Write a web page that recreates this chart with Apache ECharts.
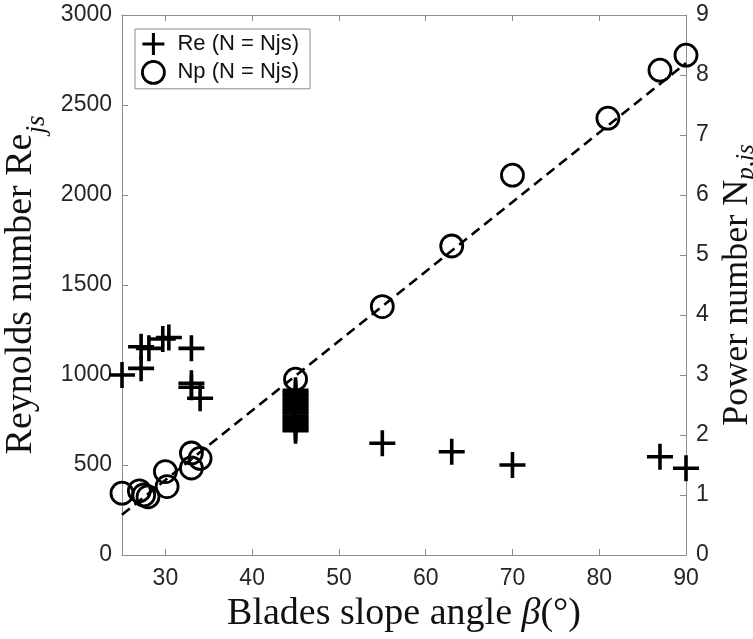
<!DOCTYPE html>
<html>
<head>
<meta charset="utf-8">
<script src="https://cdn.jsdelivr.net/npm/echarts@6/dist/echarts.min.js"></script>
<style>
  html, body { margin: 0; padding: 0; background: #fff; }
  #chart { width: 753px; height: 639px; }
</style>
</head>
<body>
<div id="chart"></div>
<script>
// 叶片倾角 (deg) 与 Re_js
const reAngles = [25, 27.2, 27.2, 28.1, 29.7, 30.4, 33, 33, 33, 34,
  45, 45, 45, 45, 45, 45, 45, 45, 45, 45, 45, 45, 45, 45, 45, 45, 45,
  55, 63, 70, 87, 90]
const reValues = [1000, 1037, 1157, 1148, 1200, 1208, 1148, 954, 932, 871,
  690, 702, 715, 731, 744, 760, 772, 789, 801, 815, 830, 846, 858, 872, 887, 900, 915,
  621, 574, 500, 546, 482]

// 叶片倾角 (deg) 与 Np_js
const npAngles = [25, 27, 27.5, 28, 30, 30.2, 33, 33, 34, 45, 55, 63, 70, 81, 87, 90]
const npValues = [1.03, 1.07, 1.0, 0.97, 1.39, 1.14, 1.7, 1.45, 1.61, 2.93, 4.14, 5.15, 6.33, 7.28, 8.08, 8.33]

// 线性拟合 (虚线)
const fitAngles = [25, 90]
const fitValues = [0.67, 8.2]

// 刻度
const xTicks = [30, 40, 50, 60, 70, 80, 90]

const crossPath = 'path://M11.2,0H14.8V11.2H26V14.8H14.8V26H11.2V14.8H0V11.2H11.2Z'

const axisGray = '#8c8c8c'
const labelColor = '#262626'

const chartDom = document.getElementById('chart')
const myChart = echarts.init(chartDom)

const option = {
  animation: false,
  grid: { left: 122, right: 67, top: 15, bottom: 84, outerBoundsMode: 'none', containLabel: false },
  legend: {
    orient: 'vertical',
    left: 135,
    top: 29,
    padding: [4, 11, 4, 6],
    itemGap: 5,
    itemWidth: 30,
    itemHeight: 22,
    backgroundColor: '#fff',
    borderColor: axisGray,
    borderWidth: 1,
    textStyle: { fontFamily: 'Liberation Sans', fontSize: 22, color: '#111', padding: [0, 0, 0, 4] },
    data: [
      { name: 'Re (N = Njs)', icon: crossPath, itemStyle: { color: '#000' } },
      { name: 'Np (N = Njs)', icon: 'circle', itemStyle: { color: 'rgba(0,0,0,0)', borderColor: '#000', borderWidth: 2.8 } }
    ]
  },
  xAxis: [
    {
      type: 'value',
      min: 25,
      max: 90,
      name: '{t|Blades slope angle }{g|β}{t|(°)}',
      nameLocation: 'middle',
      nameGap: 39,
      nameTextStyle: {
        rich: {
          t: { fontFamily: 'Liberation Serif', fontSize: 38, color: '#111' },
          g: { fontFamily: 'Liberation Serif', fontSize: 38, fontStyle: 'italic', color: '#111' }
        }
      },
      axisLine: { onZero: false, lineStyle: { color: axisGray, width: 1 } },
      axisTick: { inside: true, length: 6, customValues: xTicks, lineStyle: { color: axisGray } },
      axisLabel: {
        fontFamily: 'Liberation Sans', fontSize: 23, color: labelColor, margin: 12,
        customValues: xTicks
      },
      splitLine: { show: false }
    },
    {
      type: 'value',
      position: 'top',
      min: 25,
      max: 90,
      axisLine: { onZero: false, lineStyle: { color: axisGray, width: 1 } },
      axisTick: { inside: true, length: 6, customValues: xTicks, lineStyle: { color: axisGray } },
      axisLabel: { show: false },
      splitLine: { show: false }
    }
  ],
  yAxis: [
    {
      type: 'value',
      min: 0,
      max: 3000,
      interval: 500,
      name: '{t|Reynolds number Re}{s|js}',
      nameLocation: 'middle',
      nameGap: 46,
      nameRotate: 90,
      nameTextStyle: {
        rich: {
          t: { fontFamily: 'Liberation Serif', fontSize: 38, color: '#111' },
          s: { fontFamily: 'Liberation Serif', fontSize: 27, fontStyle: 'italic', color: '#111', verticalAlign: 'bottom', padding: [0, 0, -10, 0] }
        }
      },
      axisLine: { show: true, lineStyle: { color: axisGray, width: 1 } },
      axisTick: { inside: true, length: 6, lineStyle: { color: axisGray } },
      axisLabel: { fontFamily: 'Liberation Sans', fontSize: 23, color: labelColor, margin: 10, formatter: (v) => String(v) },
      splitLine: { show: false }
    },
    {
      type: 'value',
      position: 'right',
      min: 0,
      max: 9,
      interval: 1,
      name: '{t|Power number N}{s|p,js}',
      nameLocation: 'middle',
      nameGap: 12,
      nameRotate: 90,
      nameTextStyle: {
        rich: {
          t: { fontFamily: 'Liberation Serif', fontSize: 36, color: '#111' },
          s: { fontFamily: 'Liberation Serif', fontSize: 25, fontStyle: 'italic', color: '#111', verticalAlign: 'bottom', padding: [0, 0, -3, 0] }
        }
      },
      axisLine: { show: true, lineStyle: { color: axisGray, width: 1 } },
      axisTick: { inside: true, length: 6, lineStyle: { color: axisGray } },
      axisLabel: { fontFamily: 'Liberation Sans', fontSize: 23, color: labelColor, margin: 10 },
      splitLine: { show: false }
    }
  ],
  series: [
    {
      name: 'Np fit',
      type: 'line',
      xAxisIndex: 0,
      yAxisIndex: 1,
      data: fitAngles.map((a, i) => [a, fitValues[i]]),
      symbol: 'none',
      lineStyle: { color: '#000', width: 2.6, type: [10, 6] },
      z: 1
    },
    {
      name: 'Re (N = Njs)',
      type: 'scatter',
      xAxisIndex: 0,
      yAxisIndex: 0,
      data: reAngles.map((a, i) => [a, reValues[i]]),
      symbol: crossPath,
      symbolSize: 26,
      clip: false,
      itemStyle: { color: '#000', opacity: 1 },
      z: 3
    },
    {
      name: 'Np (N = Njs)',
      type: 'scatter',
      xAxisIndex: 0,
      yAxisIndex: 1,
      data: npAngles.map((a, i) => [a, npValues[i]]),
      symbol: 'circle',
      symbolSize: 22,
      clip: false,
      itemStyle: { color: 'rgba(0,0,0,0)', borderColor: '#000', borderWidth: 2.8, opacity: 1 },
      z: 2
    }
  ]
}

myChart.setOption(option)
</script>
</body>
</html>
